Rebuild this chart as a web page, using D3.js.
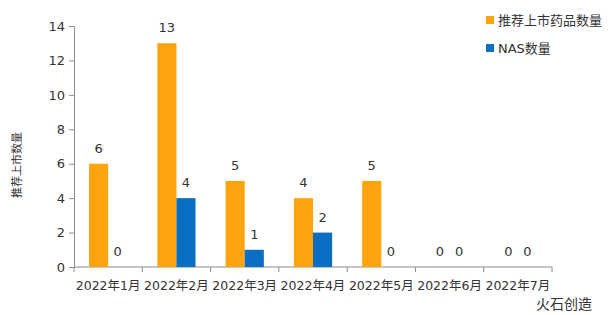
<!DOCTYPE html>
<html>
<head>
<meta charset="utf-8">
<script src="https://cdn.jsdelivr.net/npm/d3@7"></script>
<style>
  body { margin: 0; background: #fff; }
  text { font-family: "DejaVu Sans", "Noto Sans CJK SC", sans-serif; fill: #333; }
</style>
</head>
<body>
<svg id="chart" width="611" height="315"></svg>
<script>
var months = ['2022年1月', '2022年2月', '2022年3月', '2022年4月', '2022年5月', '2022年6月', '2022年7月'];
var recommended = [6, 13, 5, 4, 5, 0, 0];
var nas = [0, 4, 1, 2, 0, 0, 0];
var seriesNames = ['推荐上市药品数量', 'NAS数量'];
var seriesColors = ['#FFA30F', '#0A6FC2'];
var yTicks = [0, 2, 4, 6, 8, 10, 12, 14];

var svg = d3.select('#chart');
var plotLeft = 74, plotRight = 552, plotTop = 26, plotBottom = 267;

var x0 = d3.scaleBand().domain(months).range([plotLeft, plotRight])
  .paddingInner(0.44).paddingOuter(0.22);
var x1 = d3.scaleBand().domain([0, 1]).range([0, x0.bandwidth()]);
var y = d3.scaleLinear().domain([0, 14]).range([plotBottom, plotTop]);

// axes
var yAxis = svg.append('g')
  .attr('transform', 'translate(' + plotLeft + ',0)')
  .call(d3.axisLeft(y).tickValues(yTicks).tickSize(5).tickPadding(4));
yAxis.select('.domain').attr('stroke', '#8c8c8c');
yAxis.selectAll('.tick line').attr('stroke', '#8c8c8c');
yAxis.selectAll('.tick text').style('font-size', '13px').attr('fill', '#333');

var step = (plotRight - plotLeft) / months.length;
var xAxis = svg.append('g');
xAxis.append('line')
  .attr('x1', plotLeft).attr('x2', plotRight)
  .attr('y1', plotBottom).attr('y2', plotBottom)
  .attr('stroke', '#8c8c8c');
xAxis.selectAll('line.tk').data(d3.range(months.length + 1))
  .enter().append('line')
  .attr('class', 'tk')
  .attr('x1', function (i) { return plotLeft + i * step; })
  .attr('x2', function (i) { return plotLeft + i * step; })
  .attr('y1', plotBottom).attr('y2', plotBottom + 5)
  .attr('stroke', '#8c8c8c');
xAxis.selectAll('text').data(months)
  .enter().append('text')
  .attr('x', function (d) { return x0(d) + x0.bandwidth() / 2; })
  .attr('y', plotBottom + 23)
  .attr('text-anchor', 'middle')
  .style('font-size', '12.5px')
  .text(function (d) { return d; });

// bars
var rows = months.map(function (m, i) {
  return { month: m, values: [recommended[i], nas[i]] };
});

var groups = svg.selectAll('g.grp').data(rows)
  .enter().append('g')
  .attr('class', 'grp')
  .attr('transform', function (d) { return 'translate(' + x0(d.month) + ',0)'; });

groups.selectAll('rect').data(function (d) { return d.values; })
  .enter().append('rect')
  .attr('x', function (d, i) { return x1(i); })
  .attr('y', function (d) { return y(d); })
  .attr('width', x1.bandwidth())
  .attr('height', function (d) { return plotBottom - y(d); })
  .attr('fill', function (d, i) { return seriesColors[i]; });

groups.selectAll('text').data(function (d) { return d.values; })
  .enter().append('text')
  .attr('x', function (d, i) { return x1(i) + x1.bandwidth() / 2; })
  .attr('y', function (d) { return y(d) - 11; })
  .attr('text-anchor', 'middle')
  .style('font-size', '13px')
  .text(function (d) { return d; });

// y title
svg.append('text')
  .attr('transform', 'translate(21,165)rotate(-90)')
  .attr('text-anchor', 'middle')
  .style('font-size', '11px')
  .text('推荐上市数量');

// legend
var legend = svg.selectAll('g.leg').data(seriesNames)
  .enter().append('g')
  .attr('class', 'leg')
  .attr('transform', function (d, i) { return 'translate(486,' + (20 + i * 28) + ')'; });
legend.append('rect')
  .attr('x', 0).attr('y', -4)
  .attr('width', 8).attr('height', 8)
  .attr('fill', function (d, i) { return seriesColors[i]; });
legend.append('text')
  .attr('x', 12).attr('y', 0)
  .attr('dy', '0.35em')
  .style('font-size', '13px')
  .text(function (d) { return d; });

// watermark text
svg.append('text')
  .attr('x', 592).attr('y', 309)
  .attr('text-anchor', 'end')
  .style('font-size', '14px')
  .attr('fill', '#999')
  .text('火石创造');
</script>
</body>
</html>
